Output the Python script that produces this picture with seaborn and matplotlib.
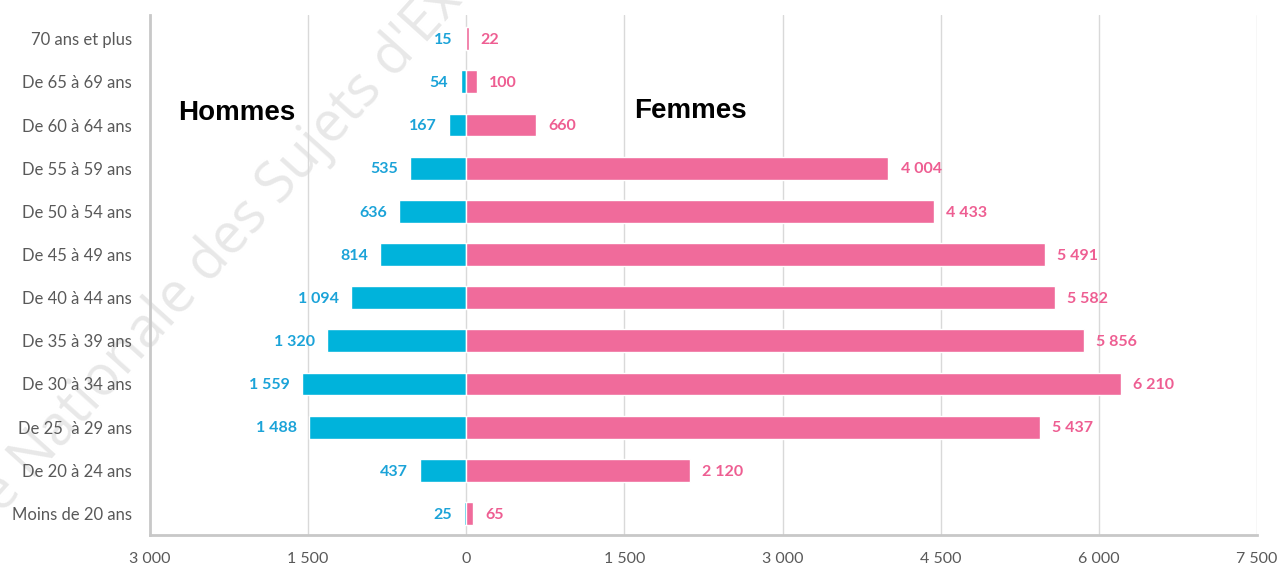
import matplotlib
matplotlib.use("Agg")
import matplotlib.pyplot as plt
import seaborn as sns
import numpy as np
import pandas as pd

categories = ["70 ans et plus", "De 65 à 69 ans", "De 60 à 64 ans", "De 55 à 59 ans",
              "De 50 à 54 ans", "De 45 à 49 ans", "De 40 à 44 ans", "De 35 à 39 ans",
              "De 30 à 34 ans", "De 25  à 29 ans", "De 20 à 24 ans", "Moins de 20 ans"]
hommes = [15, 54, 167, 535, 636, 814, 1094, 1320, 1559, 1488, 437, 25]
femmes = [22, 100, 660, 4004, 4433, 5491, 5582, 5856, 6210, 5437, 2120, 65]
xticks = [-3000, -1500, 0, 1500, 3000, 4500, 6000, 7500]

blue_bar = "#00B3DB"
pink_bar = "#F06B9B"
blue_txt = "#1BA3D8"
pink_txt = "#EE5E92"

sns.set_theme(style="white")
plt.rcParams['font.family'] = ['Lato', 'DejaVu Sans']

df = pd.DataFrame({"cat": categories, "h": -np.array(hommes), "f": femmes})

fig = plt.figure(figsize=(12.82, 5.64), dpi=100)
ax = fig.add_axes([150/1282, 29/564, (1257-150)/1282, (535-15)/564])
ax.patch.set_alpha(0)

sns.barplot(data=df, x="h", y="cat", color=blue_bar, width=0.53, saturation=1, ax=ax, zorder=3)
sns.barplot(data=df, x="f", y="cat", color=pink_bar, width=0.53, saturation=1, ax=ax, zorder=3)

for i, (h, f) in enumerate(zip(hommes, femmes)):
    ax.text(-h - 115, i + 0.03, f"{h:,}".replace(",", " "), ha="right", va="center",
            color=blue_txt, fontsize=11.5, fontweight="bold", zorder=4)
    ax.text(f + 115, i + 0.03, f"{f:,}".replace(",", " "), ha="left", va="center",
            color=pink_txt, fontsize=11.5, fontweight="bold", zorder=4)

ax.set_xlim(-3000, 7500)
ax.set_ylim(11.5, -0.55)
ax.set_xticks(xticks)
ax.set_xticklabels([f"{abs(v):,}".replace(",", " ") for v in xticks], color="#595959", fontsize=11.5)
ax.tick_params(axis="x", length=0, pad=12)
ax.tick_params(axis="y", length=0, pad=13, labelsize=12, labelcolor="#595959")
ax.set_xlabel("")
ax.set_ylabel("")
for v in xticks[1:]:
    ax.axvline(v, color="#d9d9d9", lw=1, zorder=1)
for s in ["top", "right"]:
    ax.spines[s].set_visible(False)
for s in ["left", "bottom"]:
    ax.spines[s].set_color("#c8c8c8")
    ax.spines[s].set_linewidth(2)

ax.text(-2173, 1.72, "Hommes", ha="center", va="center", fontsize=20, fontweight="bold",
        color="black", family=["Liberation Sans", "DejaVu Sans"], zorder=5)
ax.text(2125, 1.68, "Femmes", ha="center", va="center", fontsize=20, fontweight="bold",
        color="black", family=["Liberation Sans", "DejaVu Sans"], zorder=5)

fig.text(2/1282, 1 - 515/564, "e Nationale des Sujets d'Examens", rotation=48,
         rotation_mode="anchor", ha="left", va="baseline", fontsize=40,
         color="#e8e8e8", zorder=-1, family=["Open Sans", "DejaVu Sans"])

fig.savefig("out.png", dpi=100, facecolor="white")
